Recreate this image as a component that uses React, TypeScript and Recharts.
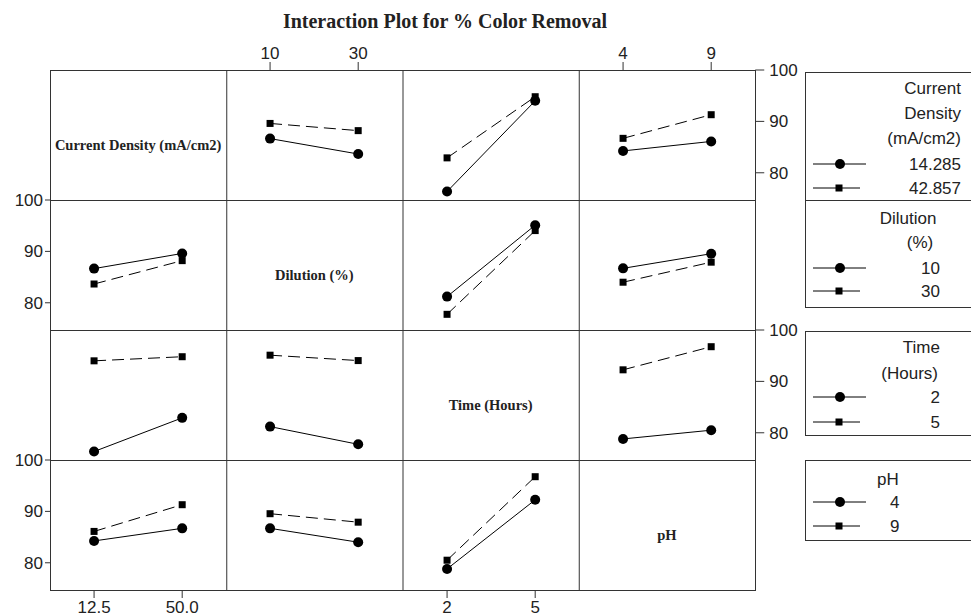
import React from 'react'
import { LineChart, Line, XAxis, YAxis } from 'recharts'

const factors = ['Current Density (mA/cm2)', 'Dilution (%)', 'Time (Hours)', 'pH']
const levels = [[12.5, 50], [10, 30], [2, 5], [4, 9]]
const tickLabels = [['12.5', '50.0'], ['10', '30'], ['2', '5'], ['4', '9']]
const yTicks = [80, 90, 100]

// mean % colour removal per pair of factors: [A1B1, A1B2, A2B1, A2B2]
const cdDilution = [86.65, 83.65, 89.6, 88.2]
const cdTime = [76.35, 94.0, 82.9, 94.8]
const cdPh = [84.25, 86.1, 86.7, 91.3]
const dilutionTime = [81.2, 95.1, 77.75, 94.05]
const dilutionPh = [86.7, 89.55, 84.0, 87.9]
const timePh = [78.8, 80.5, 92.25, 96.75]

const legendTitles = [['Current', 'Density', '(mA/cm2)'], ['Dilution', '(%)'], ['Time', '(Hours)'], ['pH']]
const legendLevels = [['14.285', '42.857'], ['10', '30'], ['2', '5'], ['4', '9']]

const pairs: (number[] | null)[][] = [
  [null, cdDilution, cdTime, cdPh],
  [null, null, dilutionTime, dilutionPh],
  [null, null, null, timePh],
  [null, null, null, null],
]

function cell(trace: number, x: number, ti: number, xi: number) {
  if (trace < x) return (pairs[trace][x] as number[])[ti * 2 + xi]
  return (pairs[x][trace] as number[])[xi * 2 + ti]
}

const W = 971
const H = 616
const X0 = 50
const Y0 = 70
const PW = 176.25
const PH = 130
const PADX = 50
const PADY = 36
const YW = 45
const XH = 30
const Y_DOMAIN: [number, number] = [74.7, 100]

const sans = '"Liberation Sans", Arial, sans-serif'
const serif = '"Liberation Serif", "Times New Roman", serif'
const ink = '#222'
const tickStyle = { fontSize: 17, fill: ink, fontFamily: sans }

const CircleDot = (props: any) => {
  const { cx, cy, index } = props
  if (cx == null || cy == null) return <g key={`c${index}`} />
  return <circle key={`c${index}`} cx={cx} cy={cy} r={5} fill="#000" />
}

const SquareDot = (props: any) => {
  const { cx, cy, index } = props
  if (cx == null || cy == null) return <g key={`s${index}`} />
  return <rect key={`s${index}`} x={cx - 3.5} y={cy - 3.5} width={7} height={7} fill="#000" />
}

function Panel({ r, c }: { r: number; c: number }) {
  const [lo, hi] = levels[c]
  const half = (hi - lo) / 2
  const data = levels[c].map((x, xi) => ({
    x,
    low: cell(r, c, 0, xi),
    high: cell(r, c, 1, xi),
  }))
  const showLeft = c === 0 && (r === 1 || r === 3)
  const showRight = c === 3 && (r === 0 || r === 2)
  const showTop = r === 0 && (c === 1 || c === 3)
  const showBottom = r === 3 && (c === 0 || c === 2)
  const margin = {
    left: PADX - (showLeft ? YW : 0),
    right: PADX - (showRight ? YW : 0),
    top: PADY - (showTop ? XH : 0),
    bottom: PADY - (showBottom ? XH : 0),
  }
  return (
    <div style={{ position: 'absolute', left: X0 + c * PW - PADX, top: Y0 + r * PH - PADY }}>
      <LineChart width={PW + 2 * PADX} height={PH + 2 * PADY} data={data} margin={margin}>
        <XAxis
          type="number"
          dataKey="x"
          domain={[lo - half, hi + half]}
          ticks={levels[c]}
          tickFormatter={(v) => tickLabels[c][levels[c].indexOf(v)] ?? String(v)}
          orientation={showTop ? 'top' : 'bottom'}
          hide={!showTop && !showBottom}
          height={XH}
          axisLine={false}
          tickLine={{ stroke: '#333' }}
          tickSize={8}
          tickMargin={3}
          tick={tickStyle}
          allowDataOverflow
        />
        <YAxis
          type="number"
          domain={Y_DOMAIN}
          ticks={yTicks}
          orientation={showRight ? 'right' : 'left'}
          hide={!showLeft && !showRight}
          width={YW}
          axisLine={false}
          tickLine={{ stroke: '#333' }}
          tickSize={showRight ? 9 : 5}
          tickMargin={showRight ? 5 : 2}
          tick={tickStyle}
          allowDataOverflow
        />
        <Line
          dataKey="low"
          stroke="#000"
          strokeWidth={1}
          dot={CircleDot}
          activeDot={false}
          isAnimationActive={false}
        />
        <Line
          dataKey="high"
          stroke="#000"
          strokeWidth={1}
          strokeDasharray="12 6"
          dot={SquareDot}
          activeDot={false}
          isAnimationActive={false}
        />
      </LineChart>
    </div>
  )
}

const legendLayout = [
  { top: 72, bottom: 200, titleX: [961, 961, 961], titleAnchor: 'end', titleY: [88, 113, 138], itemX: 961, itemAnchor: 'end', itemY: [164, 188] },
  { top: 200, bottom: 307, titleX: [908, 920], titleAnchor: 'middle', titleY: [218, 242], itemX: 940, itemAnchor: 'end', itemY: [268, 291] },
  { top: 331, bottom: 435, titleX: [940, 938], titleAnchor: 'end', titleY: [347, 373], itemX: 940, itemAnchor: 'end', itemY: [397, 422] },
  { top: 460, bottom: 540, titleX: [877], titleAnchor: 'start', titleY: [479], itemX: 890, itemAnchor: 'start', itemY: [502, 526] },
]

function Frame() {
  const right = X0 + 4 * PW
  const bottom = Y0 + 4 * PH
  return (
    <svg width={W} height={H} style={{ position: 'absolute', left: 0, top: 0 }}>
      <rect x={X0 + 0.5} y={Y0 + 0.5} width={4 * PW} height={4 * PH} fill="none" stroke="#333" />
      {[1, 2, 3].map((i) => (
        <g key={i}>
          <line x1={X0 + i * PW + 0.5} x2={X0 + i * PW + 0.5} y1={Y0} y2={bottom} stroke="#333" />
          <line x1={X0} x2={right} y1={Y0 + i * PH + 0.5} y2={Y0 + i * PH + 0.5} stroke="#333" />
        </g>
      ))}
      {factors.map((f, i) => (
        <text
          key={f}
          x={X0 + i * PW + PW / 2}
          y={Y0 + i * PH + PH / 2 + 10}
          textAnchor="middle"
          dominantBaseline="central"
          fontFamily={serif}
          fontWeight="bold"
          fontSize={14.5}
          fill={ink}
        >
          {f}
        </text>
      ))}
      {legendLayout.map((b, i) => (
        <g key={i}>
          <rect x={805.5} y={b.top + 0.5} width={200} height={b.bottom - b.top} fill="none" stroke="#333" />
          {legendTitles[i].map((t, j) => (
            <text
              key={t}
              x={b.titleX[j]}
              y={b.titleY[j]}
              textAnchor={b.titleAnchor as any}
              dominantBaseline="central"
              fontFamily={sans}
              fontSize={17}
              fill={ink}
            >
              {t}
            </text>
          ))}
          {legendLevels[i].map((t, j) => (
            <g key={t}>
              <line x1={813} x2={j === 0 ? 866 : 860} y1={b.itemY[j]} y2={b.itemY[j]} stroke="#000" />
              {j === 0 ? (
                <circle cx={840} cy={b.itemY[j]} r={5} fill="#000" />
              ) : (
                <rect x={835.5} y={b.itemY[j] - 3.5} width={7} height={7} fill="#000" />
              )}
              <text
                x={b.itemX}
                y={b.itemY[j]}
                textAnchor={b.itemAnchor as any}
                dominantBaseline="central"
                fontFamily={sans}
                fontSize={17}
                fill={ink}
              >
                {t}
              </text>
            </g>
          ))}
        </g>
      ))}
    </svg>
  )
}

export default function App() {
  const panels: { r: number; c: number }[] = []
  for (let r = 0; r < 4; r++) for (let c = 0; c < 4; c++) if (r !== c) panels.push({ r, c })
  return (
    <div style={{ position: 'absolute', left: 0, top: 0, width: W, height: H, overflow: 'hidden', background: '#fff' }}>
      <div
        style={{
          position: 'absolute',
          left: 0,
          top: 10,
          width: 890,
          textAlign: 'center',
          fontFamily: serif,
          fontWeight: 'bold',
          fontSize: 20,
          color: ink,
        }}
      >
        Interaction Plot for % Color Removal
      </div>
      <Frame />
      {panels.map((p) => (
        <Panel key={`${p.r}-${p.c}`} r={p.r} c={p.c} />
      ))}
    </div>
  )
}
